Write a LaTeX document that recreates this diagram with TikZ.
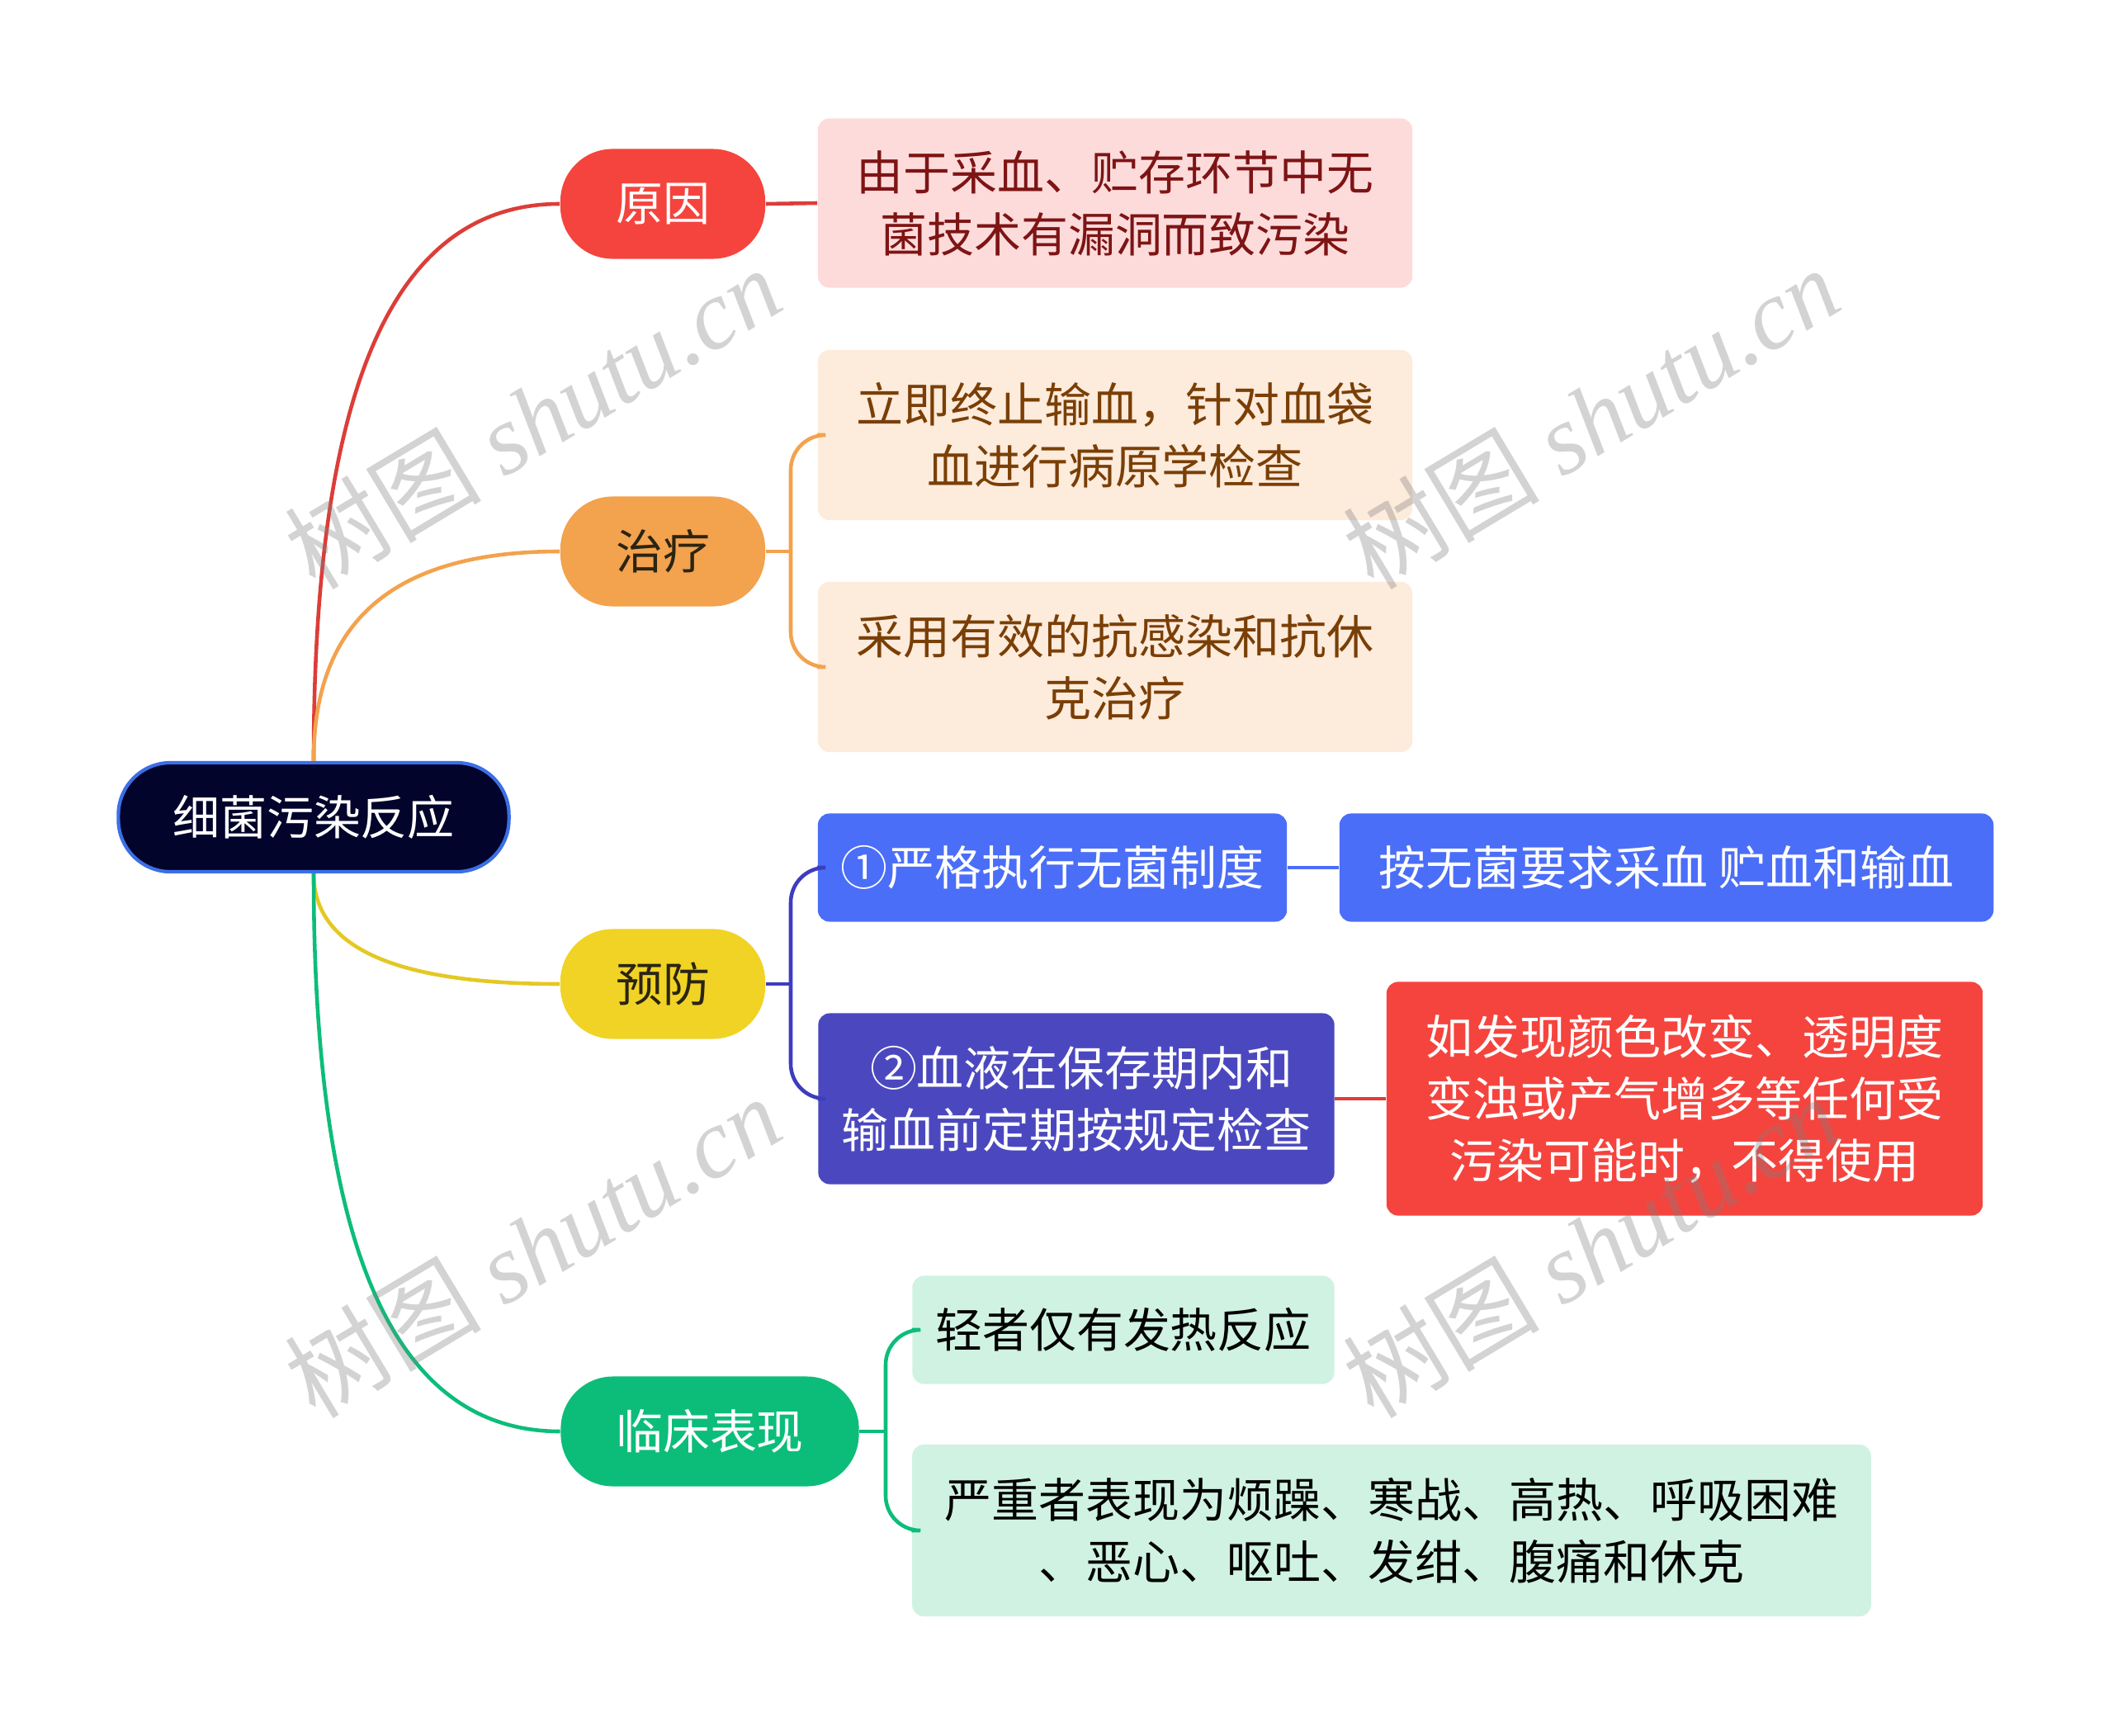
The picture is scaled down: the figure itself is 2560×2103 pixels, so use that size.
\documentclass[tikz,border=0pt]{standalone}
\usepackage{fontspec}
\setmainfont{Noto Sans CJK SC}
\newfontfamily\wmlat{Liberation Serif}
\definecolor{rootfill}{HTML}{03042B}
\definecolor{rootborder}{HTML}{3B6FE6}
\definecolor{cRed}{HTML}{F5443E}
\definecolor{cRedBox}{HTML}{FDDBDB}
\definecolor{cRedText}{HTML}{7E1414}
\definecolor{cOrange}{HTML}{F3A24D}
\definecolor{cOrangeBox}{HTML}{FDEBDC}
\definecolor{cOrangeText}{HTML}{7A3F06}
\definecolor{cYellow}{HTML}{F0D325}
\definecolor{cBlue}{HTML}{4B6EF8}
\definecolor{cIndigo}{HTML}{4B48BF}
\definecolor{cIndigoLine}{HTML}{3D3DC0}
\definecolor{cGreen}{HTML}{0CBD7A}
\definecolor{cGreenBox}{HTML}{CFF2E3}
\definecolor{cDark}{HTML}{2B2412}
\begin{document}
\begin{tikzpicture}[x=0.01cm,y=-0.01cm,
  every node/.style={font=\fontsize{16.2pt}{21.3pt}\selectfont, align=center, inner sep=0pt},
  rootbox/.style={fill=rootfill, draw=rootborder, line width=1.2pt, rounded corners=18pt, text=white},
  pill/.style={rounded corners=18pt, minimum height=1.33cm},
  leaf/.style={rounded corners=4pt},
  conn/.style={line width=1.3pt}
]
\useasboundingbox (0,0) rectangle (2560,2103);

% root
\node[rootbox, minimum width=4.73cm, minimum height=1.32cm] (root) at (380,990) {细菌污染反应};

% main branches
\node[pill, fill=cRed, text=white, minimum width=2.48cm] (yy) at (803,247) {原因};
\node[pill, fill=cOrange, text=cDark, minimum width=2.48cm] (zl) at (803,668) {治疗};
\node[pill, fill=cYellow, text=cDark, minimum width=2.48cm] (yf) at (803,1192) {预防};
\node[pill, fill=cGreen, text=white, minimum width=3.61cm] (lc) at (860,1734) {临床表现};

% leaves
\node[leaf, fill=cRedBox, text=cRedText, minimum width=7.2cm, minimum height=2.05cm] (b1) at (1351,246) {由于采血、贮存环节中无\\菌技术有漏洞而致污染};
\node[leaf, fill=cOrangeBox, text=cOrangeText, minimum width=7.2cm, minimum height=2.06cm] (b2a) at (1351,527) {立即终止输血，针对血袋\\血进行病原学检查};
\node[leaf, fill=cOrangeBox, text=cOrangeText, minimum width=7.2cm, minimum height=2.06cm] (b2b) at (1351,808) {采用有效的抗感染和抗休\\克治疗};
\node[leaf, fill=cBlue, text=white, minimum width=5.68cm, minimum height=1.31cm] (b3a) at (1275,1051) {①严格执行无菌制度};
\node[leaf, fill=cBlue, text=white, minimum width=7.92cm, minimum height=1.31cm] (b3c) at (2019,1051) {按无菌要求采血 贮血和输血};
\node[leaf, fill=cIndigo, text=white, minimum width=6.25cm, minimum height=2.07cm] (b3b) at (1304,1331) {\ ②血液在保存期内和\\输血前定期按规定检查};
\node[leaf, fill=cRed, text=white, minimum width=7.22cm, minimum height=2.83cm] (b3d) at (2041,1331) {如发现颜色改变、透明度\\变浊或产气增多等任何受\\污染可能时，不得使用};
\node[leaf, fill=cGreenBox, text=black, minimum width=5.11cm, minimum height=1.31cm] (b4a) at (1361,1611) {轻者仅有发热反应};
\node[leaf, fill=cGreenBox, text=black, minimum width=11.61cm, minimum height=2.08cm] (b4b) at (1686,1854) {严重者表现为烦躁、寒战、高热、呼吸困难\\、恶心、呕吐、发绀、腹痛和休克};

% root connectors
\draw[conn, draw=cRed!90!black] (root.north) .. controls (380,484) and (470,247) .. (yy.west);
\draw[conn, draw=cOrange] (root.north) .. controls (380,758) and (470,668) .. (zl.west);
\draw[conn, draw=cYellow!95!black] (root.south) .. controls (380,1144) and (470,1192) .. (yf.west);
\draw[conn, draw=cGreen] (root.south) .. controls (380,1497) and (470,1734) .. (lc.west);

% branch connectors
\draw[conn, draw=cRed!90!black] (yy.east) -- (b1.west);

\coordinate (zlb) at (958,668);
\draw[conn, draw=cOrange] (zl.east) -- (zlb);
\draw[conn, draw=cOrange, rounded corners=12pt] (b2a.west) -| (zlb) |- (b2b.west);

\coordinate (yfb) at (958,1192);
\draw[conn, draw=cIndigoLine] (yf.east) -- (yfb);
\draw[conn, draw=cIndigoLine, rounded corners=12pt] (b3a.west) -| (yfb) |- (b3b.west);
\draw[conn, draw=cBlue] (b3a.east) -- (b3c.west);
\draw[conn, draw=cRed!90!black] (b3b.east) -- (b3d.west);

\coordinate (lcb) at (1073,1734);
\draw[conn, draw=cGreen] (lc.east) -- (lcb);
\draw[conn, draw=cGreen, rounded corners=12pt] (b4a.west) -| (lcb) |- (b4b.west);

% watermarks
\tikzset{wm/.style={rotate=31, text=gray, opacity=0.35, font=\fontsize{34pt}{34pt}\selectfont}}
\node[wm] (wm1) at (645,506) {树图 {\wmlat\itshape shutu.cn}};
\node[wm] (wm2) at (1927,506) {树图 {\wmlat\itshape shutu.cn}};
\node[wm] (wm3) at (645,1510) {树图 {\wmlat\itshape shutu.cn}};
\node[wm] (wm4) at (1927,1510) {树图 {\wmlat\itshape shutu.cn}};
\end{tikzpicture}
\end{document}
